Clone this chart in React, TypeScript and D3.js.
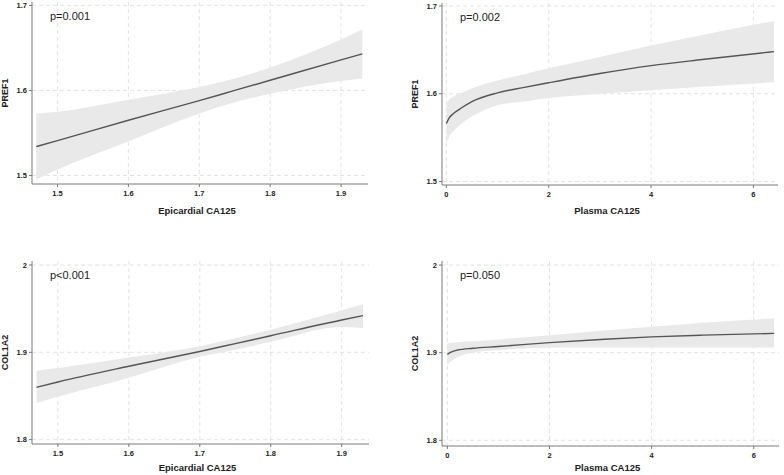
import React from "react";
import * as d3 from "d3";

// Panel 1: PREF1 vs Epicardial CA125
const epiX1 = [1.47, 1.5, 1.6, 1.7, 1.75, 1.8, 1.9, 1.93];
const pref1EpiFit = [1.534, 1.541, 1.565, 1.588, 1.600, 1.612, 1.636, 1.643];
const pref1EpiLo = [1.495, 1.507, 1.540, 1.573, 1.586, 1.596, 1.611, 1.614];
const pref1EpiHi = [1.573, 1.575, 1.589, 1.604, 1.614, 1.627, 1.660, 1.672];

// Panel 2: PREF1 vs Plasma CA125
const plaX2 = [0, 0.05, 0.15, 0.3, 0.5, 1, 1.5, 2, 3, 4, 5, 6.4];
const pref1PlaFit = [1.566, 1.572, 1.578, 1.584, 1.591, 1.601, 1.607, 1.6125, 1.623, 1.632, 1.639, 1.648];
const pref1PlaLo = [1.542, 1.550, 1.558, 1.566, 1.574, 1.587, 1.591, 1.595, 1.600, 1.604, 1.608, 1.613];
const pref1PlaHi = [1.589, 1.593, 1.597, 1.601, 1.606, 1.615, 1.622, 1.629, 1.642, 1.655, 1.667, 1.683];

// Panel 3: COL1A2 vs Epicardial CA125
const epiX3 = [1.47, 1.5, 1.6, 1.7, 1.75, 1.8, 1.9, 1.93];
const col1EpiFit = [1.860, 1.866, 1.884, 1.901, 1.910, 1.919, 1.937, 1.942];
const col1EpiLo = [1.842, 1.849, 1.871, 1.895, 1.903, 1.912, 1.929, 1.928];
const col1EpiHi = [1.879, 1.882, 1.894, 1.907, 1.916, 1.926, 1.948, 1.955];

// Panel 4: COL1A2 vs Plasma CA125
const plaX4 = [0, 0.05, 0.2, 0.5, 1, 2, 3, 4, 5, 6.4];
const col1PlaFit = [1.898, 1.900, 1.903, 1.905, 1.907, 1.9115, 1.915, 1.918, 1.920, 1.922];
const col1PlaLo = [1.8865, 1.889, 1.895, 1.900, 1.903, 1.9055, 1.906, 1.906, 1.906, 1.906];
const col1PlaHi = [1.9105, 1.911, 1.912, 1.913, 1.915, 1.920, 1.925, 1.9295, 1.934, 1.939];

const epiTicks = [1.5, 1.6, 1.7, 1.8, 1.9];
const plaTicks = [0, 2, 4, 6];
const prefTicks = [1.5, 1.6, 1.7];
const colTicks = [1.8, 1.9, 2];

const pLabels = ["p=0.001", "p=0.002", "p<0.001", "p=0.050"];
const xTitles = ["Epicardial CA125", "Plasma CA125", "Epicardial CA125", "Plasma CA125"];
const yTitles = ["PREF1", "PREF1", "COL1A2", "COL1A2"];

const panels = [
  { x: epiX1, fit: pref1EpiFit, lo: pref1EpiLo, hi: pref1EpiHi, xTicks: epiTicks, yTicks: prefTicks,
    box: { l: 32, r: 368, t: 2, b: 184 }, xd: [1.464, 1.938], yd: [1.490, 1.704], ytx: 7.5, xty: 213.5 },
  { x: plaX2, fit: pref1PlaFit, lo: pref1PlaLo, hi: pref1PlaHi, xTicks: plaTicks, yTicks: prefTicks,
    box: { l: 442, r: 778, t: 3, b: 185 }, xd: [-0.085, 6.48], yd: [1.496, 1.7034], ytx: 417.5, xty: 213.5 },
  { x: epiX3, fit: col1EpiFit, lo: col1EpiLo, hi: col1EpiHi, xTicks: epiTicks, yTicks: colTicks,
    box: { l: 32, r: 369, t: 261, b: 444 }, xd: [1.4635, 1.9385], yd: [1.795, 2.0046], ytx: 7.5, xty: 471 },
  { x: plaX4, fit: col1PlaFit, lo: col1PlaLo, hi: col1PlaHi, xTicks: plaTicks, yTicks: colTicks,
    box: { l: 442, r: 779, t: 261, b: 446 }, xd: [-0.105, 6.495], yd: [1.7935, 2.0046], ytx: 417.5, xty: 471 },
];

const font = "'Liberation Sans', Arial, sans-serif";
const fmt = (v: number) => (Number.isInteger(v) ? String(v) : v.toFixed(1));

function Panel({ p, i }: { p: any; i: number }) {
  const { l, r, t, b } = p.box;
  const xs = d3.scaleLinear().domain(p.xd).range([l, r]);
  const ys = d3.scaleLinear().domain(p.yd).range([b, t]);
  const rows = p.x.map((xv: number, k: number) => ({ x: xv, f: p.fit[k], lo: p.lo[k], hi: p.hi[k] }));
  const curve = d3.curveMonotoneX;
  const area = d3.area<any>().x((d) => xs(d.x)).y0((d) => ys(d.lo)).y1((d) => ys(d.hi)).curve(curve);
  const line = d3.line<any>().x((d) => xs(d.x)).y((d) => ys(d.f)).curve(curve);
  return (
    <g>
      {p.xTicks.map((v: number) => (
        <line key={"gx" + v} x1={xs(v)} x2={xs(v)} y1={t} y2={b} stroke="#dcdcdc" strokeWidth={0.8} strokeDasharray="4,3" />
      ))}
      {p.yTicks.map((v: number) => (
        <line key={"gy" + v} x1={l} x2={r} y1={ys(v)} y2={ys(v)} stroke="#dcdcdc" strokeWidth={0.8} strokeDasharray="4,3" />
      ))}
      <path d={area(rows) || ""} fill="#e9e9e9" />
      <path d={line(rows) || ""} fill="none" stroke="#555" strokeWidth={1.4} />
      <line x1={l} x2={l} y1={t} y2={b} stroke="#7a7a7a" strokeWidth={1} />
      <line x1={l} x2={r} y1={b} y2={b} stroke="#7a7a7a" strokeWidth={1} />
      {p.yTicks.map((v: number) => (
        <g key={"ty" + v}>
          <line x1={l - 3} x2={l} y1={ys(v)} y2={ys(v)} stroke="#7a7a7a" strokeWidth={1} />
          <text x={l - 5} y={ys(v) + 2.7} textAnchor="end" fontSize={7.5} fontWeight="bold" fill="#222" fontFamily={font}>{fmt(v)}</text>
        </g>
      ))}
      {p.xTicks.map((v: number) => (
        <g key={"tx" + v}>
          <line x1={xs(v)} x2={xs(v)} y1={b} y2={b + 3} stroke="#7a7a7a" strokeWidth={1} />
          <text x={xs(v)} y={b + 12} textAnchor="middle" fontSize={7.5} fontWeight="bold" fill="#222" fontFamily={font}>{fmt(v)}</text>
        </g>
      ))}
      <text x={(l + r) / 2 - 3} y={p.xty} textAnchor="middle" fontSize={9.5} fontWeight="bold" fill="#222" fontFamily={font}>{xTitles[i]}</text>
      <text transform={`translate(${p.ytx},${(t + b) / 2}) rotate(-90)`} textAnchor="middle" fontSize={9} fontWeight="bold" fill="#222" fontFamily={font}>{yTitles[i]}</text>
      <text x={l + 18} y={t + 18} fontSize={10} fill="#222" fontFamily={font} textLength={40} lengthAdjust="spacingAndGlyphs">{pLabels[i]}</text>
    </g>
  );
}

export default function App() {
  return (
    <svg width={784} height={475} style={{ position: "absolute", left: 0, top: 0, background: "#fff" }}>
      <rect width={784} height={475} fill="#fff" />
      {panels.map((p, i) => (
        <Panel key={i} p={p} i={i} />
      ))}
    </svg>
  );
}
